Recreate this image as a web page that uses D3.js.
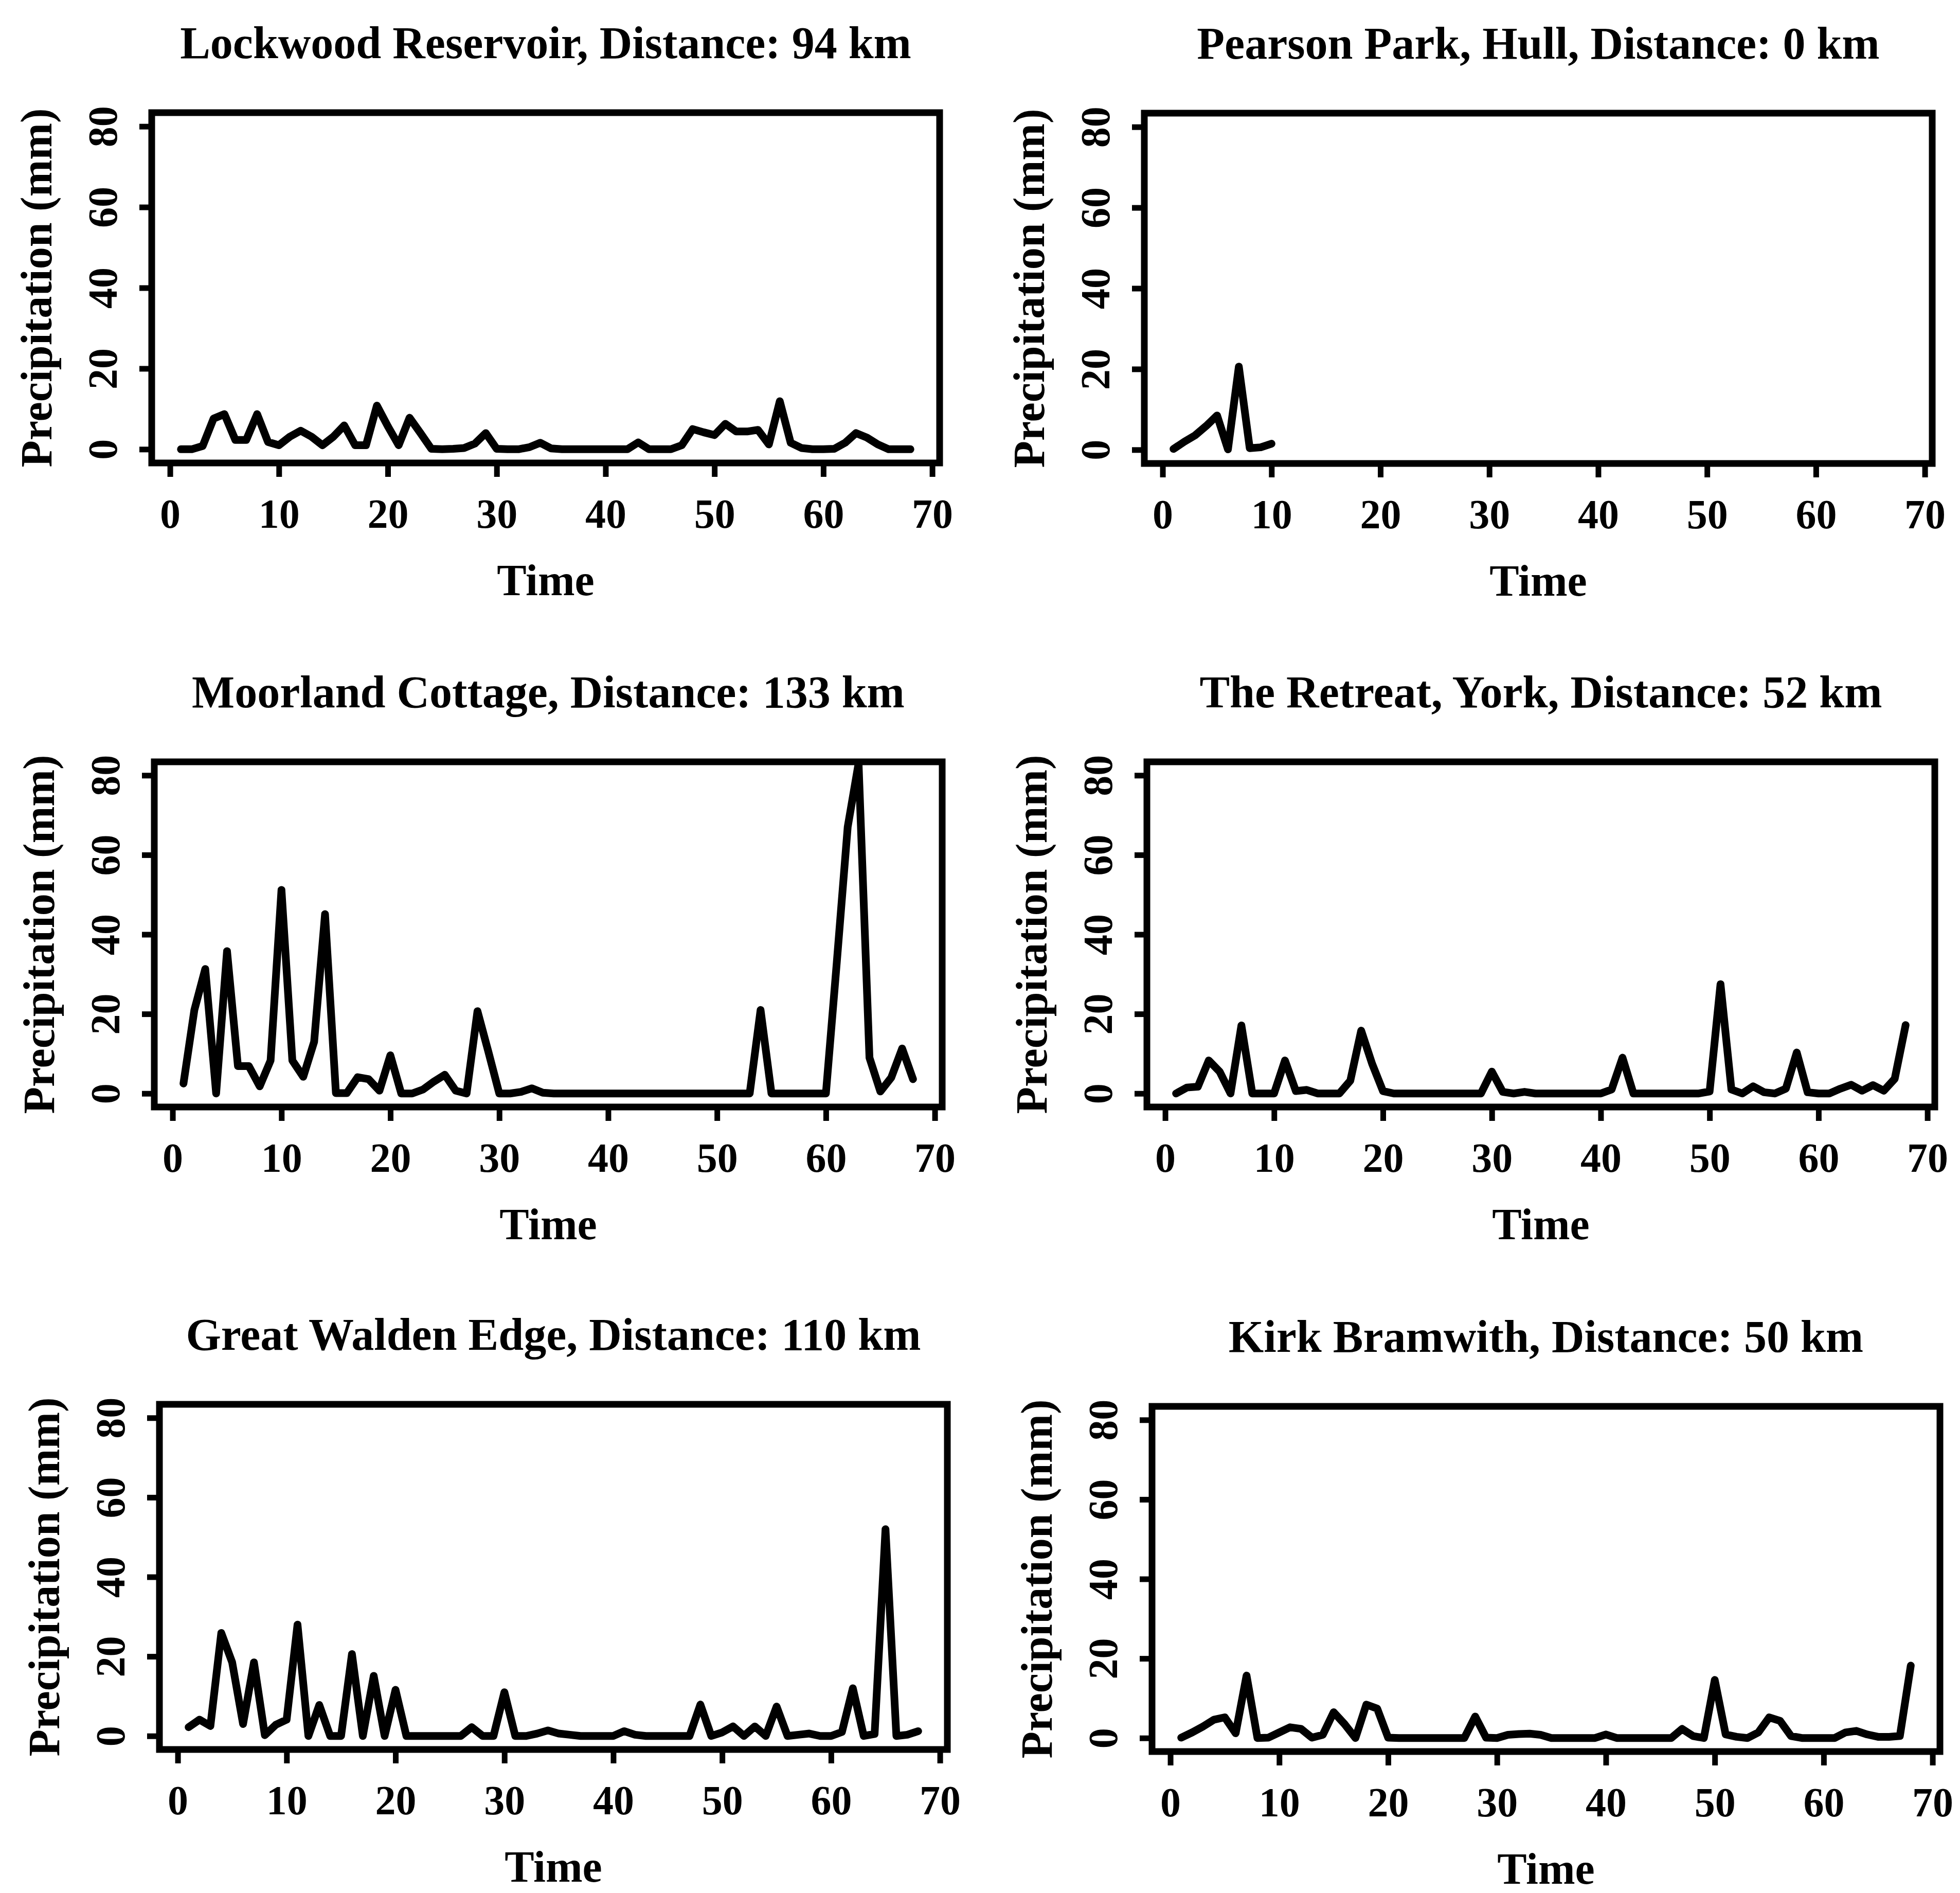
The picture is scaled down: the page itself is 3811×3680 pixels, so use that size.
<!DOCTYPE html>
<html>
<head>
<meta charset="utf-8">
<script src="https://cdn.jsdelivr.net/npm/d3@7/dist/d3.min.js"></script>
<style>
  html, body { margin: 0; padding: 0; background: #fff; }
  svg { display: block; }
  text { font-family: "Liberation Serif", "Times New Roman", serif; font-weight: bold; fill: #000; }
</style>
</head>
<body>
<script>
// Daily precipitation (mm) at six gauges, days 1..n
const stationNames = ["Lockwood Reservoir", "Pearson Park, Hull", "Moorland Cottage",
                      "The Retreat, York", "Great Walden Edge", "Kirk Bramwith"];
const distancesKm = [94, 0, 133, 52, 110, 50];

const timeTicks = [0, 10, 20, 30, 40, 50, 60, 70];
const precipTicks = [0, 20, 40, 60, 80];

const lockwood = [0,0,0.8,7.6,8.7,2.3,2.3,8.7,1.8,1.0,
  3.1,4.6,3.1,1.0,3.1,5.9,1.0,1.0,10.8,5.7,
  1.0,7.8,4.0,0.1,0,0.1,0.3,1.4,4.0,0.1,
  0,0,0.5,1.6,0.2,0,0,0,0,0,
  0,0,1.7,0,0,0,1.0,5.0,4.2,3.5,
  6.3,4.4,4.4,4.8,1.2,11.9,1.6,0.3,0,0,
  0.1,1.6,4.0,2.9,1.2,0,0,0];

const pearsonPark = [0.2,2.0,3.6,5.9,8.5,0.1,20.6,0.4,0.6,1.5];

const moorland = [2.5,21,31.3,0,35.8,6.9,6.9,1.8,8.3,51.2,
  8.3,4.2,13,45.1,0.1,0.1,4.1,3.6,0.7,9.6,
  0,0,1,3,4.7,0.7,0,20.7,10.5,0,
  0,0.4,1.3,0.2,0,0,0,0,0,0,
  0,0,0,0,0,0,0,0,0,0,
  0,0,0,21,0,0,0,0,0,0,
  33,67,83,9,0.5,4,11.3,3.6];

const retreatYork = [0,1.5,1.7,8.3,5.5,0,17.1,0,0,0,
  8.3,0.6,0.9,0,0,0,3.2,15.8,7.5,0.6,
  0,0,0,0,0,0,0,0,0,5.5,
  0.4,0,0.4,0,0,0,0,0,0,0,
  1,9,0,0,0,0,0,0,0,0.5,
  27.5,1,0,1.8,0.3,0,1.2,10.3,0.3,0,
  0,1.2,2.2,0.7,2.1,0.7,3.7,17.2];

const greatWalden = [2.2,4.1,2.5,25.9,18.5,3,18.5,0.2,2.8,4.1,
  28,0,7.8,0,0,20.6,0,15.1,0,11.6,
  0,0,0,0,0,0,2.2,0,0,11,
  0,0,0.6,1.4,0.6,0.3,0,0,0,0,
  1.2,0.3,0,0,0,0,0,7.9,0,0.9,
  2.4,0,2.4,0,7.4,0,0.3,0.6,0,0,
  1,12,0,0.5,52,0,0.3,1.2];

const kirkBramwith = [0.1,1.4,2.9,4.6,5.2,1.2,15.7,0,0.1,1.4,
  2.7,2.3,0.1,0.8,6.5,3.5,0,8.4,7.4,0.1,
  0,0,0,0,0,0,0,5.4,0.1,0,
  0.8,1,1.1,0.8,0,0,0,0,0,0.9,
  0,0,0,0,0,0,2.3,0.5,0,14.6,
  0.9,0.3,0,1.4,5.2,4.3,0.5,0,0,0,
  0,1.4,1.8,0.9,0.3,0.3,0.5,18.2];

const seriesList = [lockwood, pearsonPark, moorland, retreatYork, greatWalden, kirkBramwith];

// Panel frames (plot-region boxes) in a 2 x 3 grid
const frames = [
  { left: 295,  top: 219,  bottom: 900 },
  { left: 2225, top: 220,  bottom: 901 },
  { left: 300,  top: 1481, bottom: 2152 },
  { left: 2230, top: 1481, bottom: 2152 },
  { left: 310,  top: 2730, bottom: 3401 },
  { left: 2240, top: 2734, bottom: 3405 }
];
const frameWidth = 1532;

const W = 3811, H = 3680;
const svg = d3.select("body").append("svg")
  .attr("width", W).attr("height", H)
  .attr("viewBox", `0 0 ${W} ${H}`);
svg.append("rect").attr("width", W).attr("height", H).attr("fill", "#fff");

// R-style limits: x range 1..68 and y range 0..80, each padded by 4%
const xDomain = [1 - 0.04 * 67, 68 + 0.04 * 67];
const yDomain = [-3.4, 83.4];

seriesList.forEach((values, i) => {
  const f = frames[i];
  const right = f.left + frameWidth;
  const x = d3.scaleLinear().domain(xDomain).range([f.left, right]);
  const y = d3.scaleLinear().domain(yDomain).range([f.bottom, f.top]);
  const g = svg.append("g");

  const clipId = "clip" + i;
  svg.append("clipPath").attr("id", clipId)
    .append("rect")
    .attr("x", f.left).attr("y", f.top)
    .attr("width", frameWidth).attr("height", f.bottom - f.top);

  const line = d3.line()
    .x((d, k) => x(k + 1))
    .y(d => y(d));

  g.append("path")
    .datum(values)
    .attr("clip-path", `url(#${clipId})`)
    .attr("d", line)
    .attr("fill", "none")
    .attr("stroke", "#000")
    .attr("stroke-width", 15)
    .attr("stroke-linejoin", "round")
    .attr("stroke-linecap", "round");

  // bottom axis
  const xAxis = g.append("g")
    .attr("transform", `translate(0,${f.bottom})`)
    .call(d3.axisBottom(x).tickValues(timeTicks).tickSize(27).tickSizeOuter(0).tickPadding(42).tickFormat(d3.format("d")));
  xAxis.select(".domain").remove();
  xAxis.selectAll(".tick line").attr("stroke", "#000").attr("stroke-width", 11);
  xAxis.selectAll(".tick text")
    .attr("font-size", 80)
    .attr("font-family", "Liberation Serif, serif")
    .attr("font-weight", "bold");

  // left axis with labels turned parallel to the axis
  const yAxis = g.append("g")
    .attr("transform", `translate(${f.left},0)`)
    .call(d3.axisLeft(y).tickValues(precipTicks).tickSize(24).tickSizeOuter(0).tickFormat(d3.format("d")));
  yAxis.select(".domain").remove();
  yAxis.selectAll(".tick line").attr("stroke", "#000").attr("stroke-width", 11);
  yAxis.selectAll(".tick text")
    .attr("x", null).attr("dy", null)
    .attr("transform", "translate(-68,0) rotate(-90)")
    .attr("text-anchor", "middle")
    .attr("font-size", 80)
    .attr("font-family", "Liberation Serif, serif")
    .attr("font-weight", "bold");

  // frame
  g.append("rect")
    .attr("x", f.left).attr("y", f.top)
    .attr("width", frameWidth).attr("height", f.bottom - f.top)
    .attr("fill", "none").attr("stroke", "#000").attr("stroke-width", 13);

  const cx = (f.left + right) / 2;
  const cy = (f.top + f.bottom) / 2;

  g.append("text")
    .attr("x", cx).attr("y", f.top - 106)
    .attr("text-anchor", "middle")
    .attr("font-size", 88)
    .text(`${stationNames[i]}, Distance: ${distancesKm[i]} km`);

  g.append("text")
    .attr("x", cx).attr("y", f.bottom + 257)
    .attr("text-anchor", "middle")
    .attr("font-size", 86)
    .text("Time");

  g.append("text")
    .attr("transform", `translate(${f.left - 195},${cy}) rotate(-90)`)
    .attr("text-anchor", "middle")
    .attr("font-size", 86)
    .text("Precipitation (mm)");
});
</script>
</body>
</html>
